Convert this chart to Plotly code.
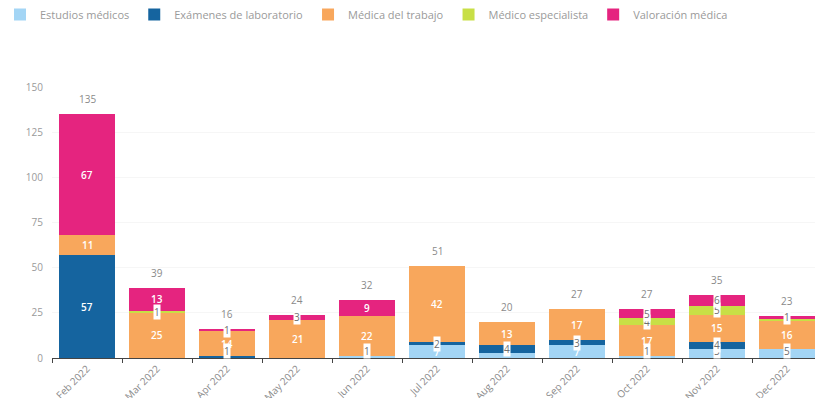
import plotly.graph_objects as go

# Monthly counts per consultation type (stacked)
months = ["Feb 2022", "Mar 2022", "Apr 2022", "May 2022", "Jun 2022", "Jul 2022",
          "Aug 2022", "Sep 2022", "Oct 2022", "Nov 2022", "Dec 2022"]
estudios_medicos = [0, 0, 0, 0, 1, 7, 3, 7, 1, 5, 5]
examenes_laboratorio = [57, 0, 1, 0, 0, 2, 4, 3, 0, 4, 0]
medica_trabajo = [11, 25, 14, 21, 22, 42, 13, 17, 17, 15, 16]
medico_especialista = [0, 1, 0, 0, 0, 0, 0, 0, 4, 5, 1]
valoracion_medica = [67, 13, 1, 3, 9, 0, 0, 0, 5, 6, 1]

series = [
    ("Estudios médicos", estudios_medicos, "#a3d5f5"),
    ("Exámenes de laboratorio", examenes_laboratorio, "#15649f"),
    ("Médica del trabajo", medica_trabajo, "#f8a75c"),
    ("Médico especialista", medico_especialista, "#c8df46"),
    ("Valoración médica", valoracion_medica, "#e5247f"),
]

FONT = "Open Sans"
fig = go.Figure()
for name, vals, color in series:
    fig.add_trace(go.Bar(
        x=months, y=vals, name=name, marker=dict(color=color, line=dict(width=0)),
        hoverinfo="x+y+name",
    ))

# Collect segment label positions per bar
labels = [[] for _ in months]
base = [0] * len(months)
for name, vals, color in series:
    for i, v in enumerate(vals):
        if v > 0:
            mid = base[i] + v / 2
            y = max(mid, 3.8) if v < 7 else mid
            labels[i].append((y, v))
        base[i] += v

# Small segments get a white box, larger ones white text; a label crowded by
# the next one up in the same bar is dropped
annotations = []
for i, lab in enumerate(labels):
    for k, (y, v) in enumerate(lab):
        if k + 1 < len(lab) and lab[k + 1][0] - y < 3:
            continue
        if v < 7:
            annotations.append(dict(
                x=months[i], y=y, text=str(v), showarrow=False,
                font=dict(family=FONT, size=10, color="#6f6f6f"),
                bgcolor="#ffffff", borderpad=0,
            ))
        else:
            annotations.append(dict(
                x=months[i], y=y, text=str(v), showarrow=False,
                font=dict(family=FONT, size=10, color="#ffffff", weight=600),
            ))

# Totals above each bar
for i, total in enumerate(base):
    annotations.append(dict(
        x=months[i], y=total, text=str(total), showarrow=False, yshift=15,
        font=dict(family=FONT, size=10, color="#8a8a8a"),
    ))

fig.update_layout(
    width=815, height=398,
    barmode="stack", bargap=0.19,
    plot_bgcolor="#ffffff", paper_bgcolor="#ffffff",
    margin=dict(l=52, r=0, t=87, b=40),
    font=dict(family=FONT, color="#8a8a8a"),
    annotations=annotations,
    legend=dict(
        orientation="h", x=-0.017, xanchor="left", xref="container",
        y=1.0, yanchor="top", yref="container", itemwidth=30, traceorder="normal",
        font=dict(family=FONT, size=11, color="#9a9a9a"),
    ),
    showlegend=True,
)
fig.update_xaxes(
    range=[-0.5, 10.4], tickangle=-45, tickson="boundaries",
    ticks="outside", ticklen=4, tickcolor="#444444",
    showline=True, linecolor="#444444", linewidth=1,
    showgrid=False, automargin=False,
    tickfont=dict(family=FONT, size=10, color="#8a8a8a"),
)
fig.update_yaxes(
    range=[0, 150], tickvals=[0, 25, 50, 75, 100, 125, 150],
    showgrid=True, gridcolor="#f6f6f6", zeroline=False,
    ticks="outside", ticklen=6, tickcolor="rgba(0,0,0,0)", automargin=False,
    tickfont=dict(family=FONT, size=10, color="#9a9a9a"),
)

fig.write_html("out.html")
